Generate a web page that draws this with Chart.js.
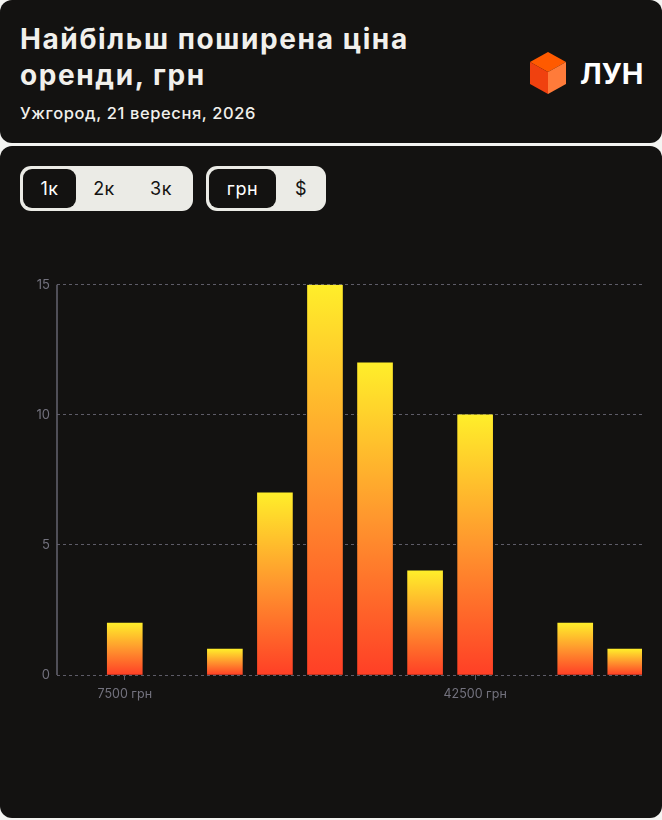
<!DOCTYPE html>
<html>
<head>
<meta charset="utf-8">
<script src="https://cdn.jsdelivr.net/npm/chart.js@4"></script>
<style>
  body { margin: 0; background: #f4f4f2; width: 662px; height: 820px; font-family: Inter, "Noto Sans", sans-serif; }
  .card { position: absolute; left: 0; width: 662px; background: #131211; border-radius: 12px; }
  .head { top: 0; height: 143px; }
  .main { top: 146px; height: 672px; }
  h1 { position: absolute; left: 20px; top: 21px; margin: 0; color: #f1f0ec; font-size: 28px; line-height: 36px; font-weight: 700; letter-spacing: 1.6px; }
  .sub { position: absolute; left: 20px; top: 103px; color: #f1f0ec; font-size: 16.5px; font-weight: 500; letter-spacing: 0.6px; }
  .logo { position: absolute; left: 528px; top: 50px; }
  .logo span { position: absolute; left: 52px; top: 6px; color: #fff; font-size: 29px; font-weight: 700; }
  .seg { position: absolute; top: 20px; height: 45px; background: #ebebe6; border-radius: 11px; box-sizing: border-box; }
  .seg div { position: absolute; top: 3px; height: 39px; line-height: 39px; font-size: 18px; color: #141312; text-align: center; letter-spacing: 0.5px; }
  .seg div.on { background: #131211; color: #fff; border-radius: 9px; }
  #wrap { position: absolute; left: 20px; top: 124px; width: 622px; height: 440px; }
</style>
</head>
<body>
<div class="card head">
  <h1>Найбільш поширена ціна<br>оренди, грн</h1>
  <div class="sub">Ужгород, 21 вересня, 2026</div>
  <div class="logo">
    <svg width="40" height="46" viewBox="0 0 40 46">
      <polygon points="20,2 38,12 20,22 2,12" fill="#ff5a00"/>
      <polygon points="2,12 20,22 20,44 2,34" fill="#f0410f"/>
      <polygon points="38,12 20,22 20,44 38,34" fill="#ff7b3a"/>
    </svg>
    <span>ЛУН</span>
  </div>
</div>
<div class="card main">
  <div class="seg" style="left:20px;width:173px;">
    <div class="on" style="left:3px;width:53px;">1к</div>
    <div style="left:66px;width:36px;">2к</div>
    <div style="left:123px;width:36px;">3к</div>
  </div>
  <div class="seg" style="left:206px;width:120px;">
    <div class="on" style="left:3px;width:67px;">грн</div>
    <div style="left:80px;width:30px;">$</div>
  </div>
  <div id="wrap"><canvas id="c"></canvas></div>
</div>
<script>
// ціна оренди, грн (центр діапазону) та кількість оголошень
const prices = [7500, 17500, 22500, 27500, 32500, 37500, 42500, 52500, 57500];
const counts = [2, 1, 7, 15, 12, 4, 10, 2, 1];
const xTicks = [7500, 42500];
const yTicks = [0, 5, 10, 15];

const gridColor = '#5e5c68';
const tickColor = '#73727e';

function barGradient(ctx) {
  const chart = ctx.chart;
  if (!chart.chartArea || ctx.parsed == null) return '#ff8a2a';
  const y = chart.scales.y;
  const top = y.getPixelForValue(ctx.parsed.y);
  const bottom = y.getPixelForValue(0);
  const g = chart.ctx.createLinearGradient(0, top, 0, bottom);
  g.addColorStop(0, '#ffee2a');
  g.addColorStop(0.5, '#ff962e');
  g.addColorStop(1, '#ff3f26');
  return g;
}

// суцільна лінія осі Y (сітка пунктирна)
const yAxisLine = {
  id: 'yAxisLine',
  afterDatasetsDraw(chart) {
    const { ctx, chartArea } = chart;
    ctx.save();
    ctx.strokeStyle = '#666571';
    ctx.lineWidth = 1.5;
    ctx.beginPath();
    ctx.moveTo(chartArea.left, chartArea.top);
    ctx.lineTo(chartArea.left, chartArea.bottom);
    ctx.stroke();
    ctx.restore();
  }
};

new Chart(document.getElementById('c'), {
  type: 'bar',
  data: {
    datasets: [{
      data: prices.map((p, i) => ({ x: p, y: counts[i] })),
      backgroundColor: barGradient,
      barThickness: 35,
      borderWidth: 0
    }]
  },
  options: {
    responsive: true,
    maintainAspectRatio: false,
    animation: false,
    layout: { padding: { top: 14, right: 0 } },
    plugins: { legend: { display: false }, tooltip: { enabled: false } },
    scales: {
      x: {
        type: 'linear',
        min: 730,
        max: 59170,
        offset: false,
        afterBuildTicks: s => { s.ticks = xTicks.map(v => ({ value: v })); },
        afterFit: s => { s.height = 35; },
        ticks: {
          color: tickColor,
          font: { family: 'Inter', size: 12.5 },
          padding: 7,
          maxRotation: 0,
          callback: v => v + ' грн'
        },
        grid: { drawOnChartArea: false, offset: false, color: gridColor, tickLength: 5 },
        border: { display: false }
      },
      y: {
        min: 0,
        max: 15,
        afterBuildTicks: s => { s.ticks = yTicks.map(v => ({ value: v })); },
        afterFit: s => { s.width = 37; },
        ticks: {
          color: tickColor,
          font: { family: 'Inter', size: 13 },
          padding: 7
        },
        grid: { color: gridColor, drawTicks: false },
        border: { display: false, dash: [3, 3] }
      }
    }
  },
  plugins: [yAxisLine]
});
</script>
</body>
</html>
